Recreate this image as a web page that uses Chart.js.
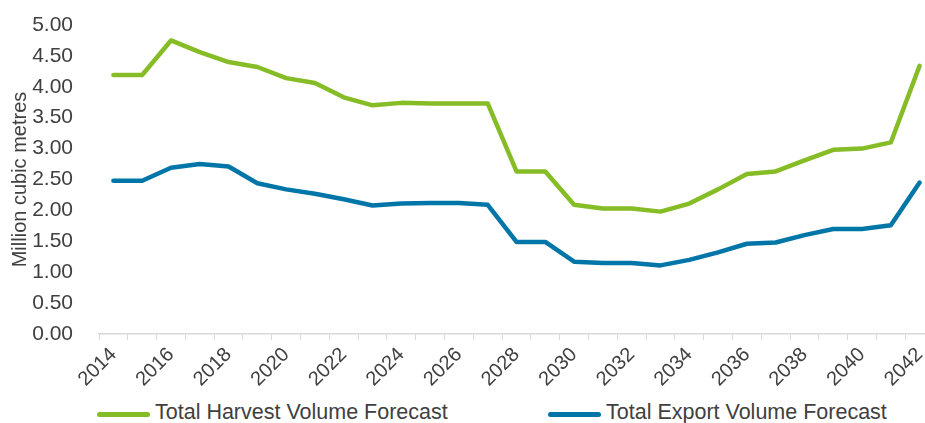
<!DOCTYPE html>
<html>
<head>
<meta charset="utf-8">
<script src="https://cdn.jsdelivr.net/npm/chart.js@4/dist/chart.umd.min.js"></script>
<style>
    html, body {
        margin: 0;
        padding: 0;
        background: #fff;
        overflow: hidden;
        width: 925px;
        height: 423px;
    }
    #wrap {
        position: relative;
        width: 940px;
        height: 395px;
    }
    #legend {
        position: absolute;
        top: 400px;
        left: 97px;
        display: flex;
        font-family: Arial, 'Liberation Sans', sans-serif;
        font-size: 21.5px;
        color: #404040;
    }
    .legend-item {
        display: flex;
        align-items: center;
        width: 451px;
        white-space: nowrap;
    }
    .legend-line {
        width: 53px;
        height: 5px;
        border-radius: 3px;
        margin-right: 5px;
        margin-top: 4px;
    }
</style>
</head>
<body>
<div id="wrap"><canvas id="chart"></canvas></div>
<div id="legend"></div>

<script>
// Datos (millones de m3)
const years = [
    '2014', '2015', '2016', '2017', '2018', '2019', '2020', '2021', '2022', '2023',
    '2024', '2025', '2026', '2027', '2028', '2029', '2030', '2031', '2032', '2033',
    '2034', '2035', '2036', '2037', '2038', '2039', '2040', '2041', '2042'
];
const harvestVolume = [
    4.19, 4.19, 4.75, 4.56, 4.40, 4.32, 4.14, 4.06, 3.83, 3.70,
    3.74, 3.73, 3.73, 3.73, 2.63, 2.63, 2.09, 2.03, 2.03, 1.98,
    2.11, 2.34, 2.59, 2.63, 2.81, 2.98, 3.00, 3.10, 4.34
];
const exportVolume = [
    2.48, 2.48, 2.69, 2.75, 2.71, 2.44, 2.34, 2.27, 2.18, 2.08,
    2.11, 2.12, 2.12, 2.09, 1.49, 1.49, 1.17, 1.15, 1.15, 1.11,
    1.20, 1.32, 1.46, 1.48, 1.60, 1.70, 1.70, 1.76, 2.45
];
const yTicks = [0, 0.5, 1, 1.5, 2, 2.5, 3, 3.5, 4, 4.5, 5];

const FONT = 'Arial, "Liberation Sans", sans-serif';
const TEXT_COLOR = '#404040';
const AXIS_COLOR = '#d9d9d9';

function lineDataset(label, data, color) {
    return {
        label: label,
        data: data,
        borderColor: color,
        backgroundColor: color,
        borderWidth: 4.5,
        borderCapStyle: 'round',
        borderJoinStyle: 'round',
        pointRadius: 0,
        tension: 0,
        fill: false
    };
}

const ctx = document.getElementById('chart').getContext('2d');
const chart = new Chart(ctx, {
    type: 'line',
    data: {
        labels: years,
        datasets: [
            lineDataset('Total Harvest Volume Forecast', harvestVolume, '#86bc25'),
            lineDataset('Total Export Volume Forecast', exportVolume, '#0076a8')
        ]
    },
    options: {
        responsive: true,
        maintainAspectRatio: false,
        animation: false,
        layout: {
            padding: { left: 4, right: 6, top: 25, bottom: 3 }
        },
        plugins: {
            legend: { display: false },
            tooltip: { enabled: false }
        },
        scales: {
            x: {
                offset: true,
                grid: {
                    offset: true,
                    drawOnChartArea: false,
                    drawTicks: true,
                    tickLength: 6,
                    color: AXIS_COLOR
                },
                border: { color: AXIS_COLOR, width: 1.5 },
                ticks: {
                    autoSkip: false,
                    minRotation: 45,
                    maxRotation: 45,
                    padding: 3,
                    color: TEXT_COLOR,
                    font: { family: FONT, size: 20 },
                    callback: function(value, index) {
                        return index % 2 === 0 ? years[index] : '';
                    }
                },
                afterFit: function(scale) {
                    scale.height = 58;
                }
            },
            y: {
                min: 0,
                max: 5,
                afterBuildTicks: function(scale) {
                    scale.ticks = yTicks.map(v => ({ value: v }));
                },
                grid: { display: false },
                border: { display: false },
                ticks: {
                    padding: 18,
                    color: TEXT_COLOR,
                    font: { family: FONT, size: 21 },
                    callback: function(value) {
                        return Number(value).toFixed(2);
                    }
                },
                title: {
                    display: true,
                    text: 'Million cubic metres',
                    color: TEXT_COLOR,
                    padding: { top: 4, bottom: 0 },
                    font: { family: FONT, size: 20 }
                },
                afterFit: function(scale) {
                    // ancho fijo y sin el relleno extra que añade ticks.padding arriba/abajo
                    scale.width = 95;
                    scale.paddingTop = 12;
                    scale.paddingBottom = 12;
                }
            }
        }
    }
});

// Leyenda en HTML para respetar la posición original
const legendBox = document.getElementById('legend');
chart.data.datasets.forEach(ds => {
    const item = document.createElement('div');
    item.className = 'legend-item';
    const line = document.createElement('span');
    line.className = 'legend-line';
    line.style.background = ds.borderColor;
    const text = document.createElement('span');
    text.textContent = ds.label;
    item.appendChild(line);
    item.appendChild(text);
    legendBox.appendChild(item);
});
</script>
</body>
</html>
